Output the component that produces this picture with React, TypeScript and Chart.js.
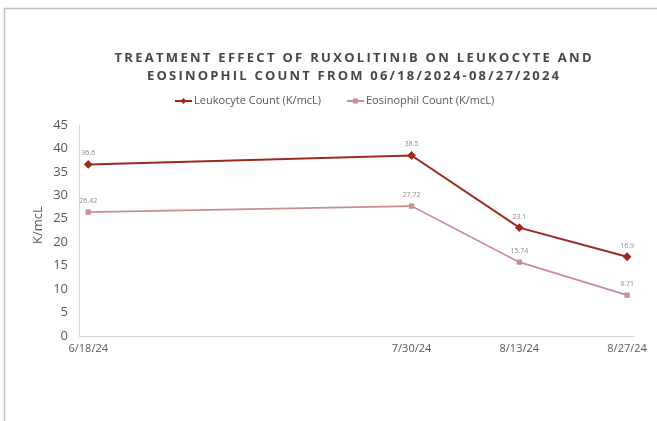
import React, { useEffect, useRef } from "react";
import { Chart, registerables } from "chart.js";

Chart.register(...registerables);

const dateLabels = ["6/18/24", "7/30/24", "8/13/24", "8/27/24"];
const dayOffsets = [0, 42, 56, 70];
const leukocyte = [36.6, 38.5, 23.1, 16.9];
const eosinophil = [26.42, 27.72, 15.74, 8.71];
const valueLabelsLeuk = ["36.6", "38.5", "23.1", "16.9"];
const valueLabelsEos = ["26.42", "27.72", "15.74", "8.71"];
const titleLines = [
  "TREATMENT EFFECT OF RUXOLITINIB ON LEUKOCYTE AND",
  "EOSINOPHIL COUNT FROM 06/18/2024-08/27/2024",
];
const seriesNames = ["Leukocyte Count (K/mcL)", "Eosinophil Count (K/mcL)"];
const yAxisTitle = "K/mcL";

const LEUK_COLOR = "#9e2a1e";
const EOS_COLOR = "#c98e8e";
const TEXT = "#595959";
const FONT = "'Open Sans', sans-serif";

const decorPlugin = {
  id: "decor",
  beforeDraw(chart: any) {
    const { ctx, width, height } = chart;
    ctx.save();
    ctx.fillStyle = "#ffffff";
    ctx.fillRect(0, 0, width, height);
    ctx.strokeStyle = "#bfbfbf";
    ctx.lineWidth = 1.5;
    ctx.beginPath();
    ctx.moveTo(4.5, height);
    ctx.lineTo(4.5, 8.5);
    ctx.lineTo(width, 8.5);
    ctx.stroke();
    ctx.restore();
  },
  afterDraw(chart: any) {
    const { ctx } = chart;
    ctx.save();
    // Title
    ctx.fillStyle = "#474747";
    ctx.textBaseline = "middle";
    ctx.textAlign = "left";
    ctx.font = `bold 13px ${FONT}`;
    const targets = [477, 412];
    const ys = [58, 76];
    const cx = 353;
    titleLines.forEach((line, i) => {
      (ctx as any).letterSpacing = "0px";
      const w = ctx.measureText(line).width;
      const ls = (targets[i] - w) / (line.length - 1);
      (ctx as any).letterSpacing = `${ls}px`;
      const x0 = cx - targets[i] / 2;
      ctx.fillText(line, x0, ys[i]);
    });
    (ctx as any).letterSpacing = "0px";

    // Legend
    ctx.font = `11px ${FONT}`;
    const legendY = 101;
    const items = [
      { x: 175, color: LEUK_COLOR, style: "diamond", text: seriesNames[0] },
      { x: 347, color: EOS_COLOR, style: "square", text: seriesNames[1] },
    ];
    items.forEach((it) => {
      ctx.strokeStyle = it.color;
      ctx.lineWidth = 2;
      ctx.beginPath();
      ctx.moveTo(it.x, legendY);
      ctx.lineTo(it.x + 17, legendY);
      ctx.stroke();
      ctx.fillStyle = it.color;
      const mx = it.x + 8.5;
      if (it.style === "diamond") {
        ctx.beginPath();
        ctx.moveTo(mx, legendY - 3);
        ctx.lineTo(mx + 3, legendY);
        ctx.lineTo(mx, legendY + 3);
        ctx.lineTo(mx - 3, legendY);
        ctx.closePath();
        ctx.fill();
      } else {
        ctx.fillRect(mx - 2.5, legendY - 2.5, 5, 5);
      }
      ctx.fillStyle = TEXT;
      ctx.textAlign = "left";
      ctx.fillText(it.text, it.x + 19, legendY);
    });

    // Y axis title
    ctx.font = `13px ${FONT}`;
    ctx.translate(38, 225);
    ctx.rotate(-Math.PI / 2);
    ctx.textAlign = "center";
    ctx.fillText(yAxisTitle, 0, 0);
    ctx.restore();
  },
};

const valueLabelPlugin = {
  id: "valueLabels",
  afterDatasetsDraw(chart: any) {
    const { ctx } = chart;
    const labelSets = [valueLabelsLeuk, valueLabelsEos];
    ctx.save();
    ctx.font = `7px ${FONT}`;
    ctx.fillStyle = "#8c8c8c";
    ctx.textAlign = "center";
    ctx.textBaseline = "middle";
    chart.data.datasets.forEach((_: any, di: number) => {
      const meta = chart.getDatasetMeta(di);
      meta.data.forEach((pt: any, i: number) => {
        ctx.fillText(labelSets[di][i], pt.x, pt.y - 11);
      });
    });
    ctx.restore();
  },
};

export default function App() {
  const ref = useRef<HTMLCanvasElement | null>(null);
  useEffect(() => {
    if (!ref.current) return;
    const chart = new Chart(ref.current, {
      type: "line",
      data: {
        datasets: [
          {
            label: seriesNames[0],
            data: dayOffsets.map((d, i) => ({ x: d, y: leukocyte[i] })),
            borderColor: LEUK_COLOR,
            backgroundColor: LEUK_COLOR,
            borderWidth: 2,
            pointStyle: "rectRot",
            pointRadius: 3,
            tension: 0,
          },
          {
            label: seriesNames[1],
            data: dayOffsets.map((d, i) => ({ x: d, y: eosinophil[i] })),
            borderColor: EOS_COLOR,
            backgroundColor: EOS_COLOR,
            borderWidth: 1.75,
            pointStyle: "rect",
            pointRadius: 2.5,
            tension: 0,
          },
        ],
      },
      options: {
        animation: false,
        responsive: false,
        layout: { padding: { left: 0, top: 125, right: 23, bottom: 60 } },
        plugins: {
          legend: { display: false },
          title: { display: false },
          tooltip: { enabled: false },
        },
        scales: {
          x: {
            type: "linear",
            min: -1.2,
            max: 70.9,
            grid: { display: false, drawTicks: false },
            border: { display: true, color: "#d9d9d9" },
            afterBuildTicks: (scale: any) => {
              scale.ticks = dayOffsets.map((v) => ({ value: v }));
            },
            afterFit: (scale: any) => {
              scale.height = 25;
            },
            ticks: {
              autoSkip: false,
              maxRotation: 0,
              padding: 6,
              color: TEXT,
              font: { family: FONT, size: 11 },
              callback: (v: any) => {
                const idx = dayOffsets.indexOf(Number(v));
                return idx >= 0 ? dateLabels[idx] : "";
              },
            },
          },
          y: {
            min: 0,
            max: 45,
            grid: { display: false, drawTicks: false },
            border: { display: true, color: "#d9d9d9" },
            afterFit: (scale: any) => {
              scale.width = 79;
            },
            ticks: {
              stepSize: 5,
              padding: 11,
              color: TEXT,
              font: { family: FONT, size: 13 },
            },
          },
        },
      },
      plugins: [decorPlugin, valueLabelPlugin],
    } as any);
    return () => chart.destroy();
  }, []);
  return (
    <div style={{ position: "fixed", left: 0, top: 0, width: 657, height: 421 }}>
      <canvas ref={ref} width={657} height={421} style={{ display: "block" }} />
    </div>
  );
}
